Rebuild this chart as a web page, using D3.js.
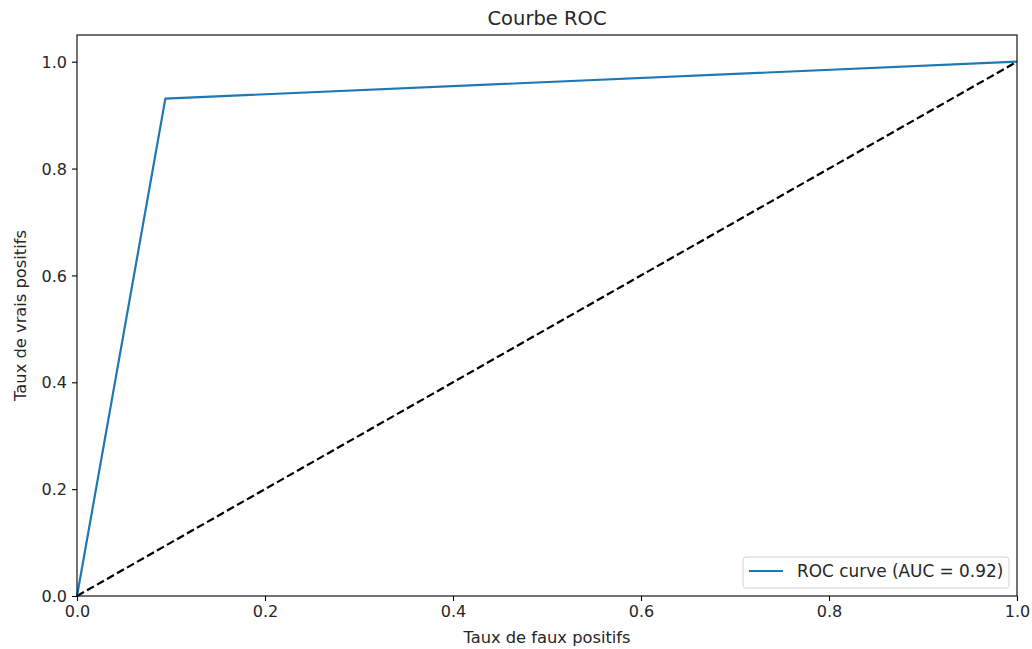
<!DOCTYPE html>
<html>
<head>
<meta charset="utf-8">
<script src="https://cdn.jsdelivr.net/npm/d3@7"></script>
<style>
  body { margin: 0; background: #fff; }
  text { font-family: "DejaVu Sans", sans-serif; fill: #262626; }
</style>
</head>
<body>
<svg id="chart"></svg>
<script>
// ROC data
const fpr = [0, 0.094, 1];
const tpr = [0, 0.931, 1];
const diagX = [0, 1];
const diagY = [0, 1];
const xTicks = [0, 0.2, 0.4, 0.6, 0.8, 1.0];
const yTicks = [0, 0.2, 0.4, 0.6, 0.8, 1.0];
const aucLabel = "ROC curve (AUC = 0.92)";

const width = 1032, height = 649;
const margin = { top: 35, right: 15, bottom: 53, left: 77 };
const svg = d3.select("#chart").attr("width", width).attr("height", height);

const x = d3.scaleLinear().domain([0, 1]).range([margin.left, width - margin.right]);
const y = d3.scaleLinear().domain([0, 1.05]).range([height - margin.bottom, margin.top]);

// lignes
const line = d3.line().x(d => x(d[0])).y(d => y(d[1]));

svg.append("path")
  .datum(diagX.map((d, i) => [d, diagY[i]]))
  .attr("d", line)
  .attr("fill", "none")
  .attr("stroke", "#000")
  .attr("stroke-width", 2.2)
  .attr("stroke-dasharray", "8,3.5");

svg.append("path")
  .datum(fpr.map((d, i) => [d, tpr[i]]))
  .attr("d", line)
  .attr("fill", "none")
  .attr("stroke", "#1f77b4")
  .attr("stroke-width", 2.2)
  .attr("stroke-linejoin", "round");

// axes
const xAxis = svg.append("g")
  .attr("transform", `translate(0,${height - margin.bottom})`)
  .call(d3.axisBottom(x).tickValues(xTicks).tickFormat(d3.format(".1f")).tickSizeOuter(0).tickSize(5).tickPadding(5));
const yAxis = svg.append("g")
  .attr("transform", `translate(${margin.left},0)`)
  .call(d3.axisLeft(y).tickValues(yTicks).tickFormat(d3.format(".1f")).tickSizeOuter(0).tickSize(5).tickPadding(5));

[xAxis, yAxis].forEach(g => {
  g.select(".domain").remove();
  g.selectAll(".tick line").attr("stroke", "#000").attr("stroke-width", 1.1);
  g.selectAll(".tick text").attr("font-size", 16).attr("fill", "#262626")
    .attr("font-family", "DejaVu Sans, sans-serif");
});
yAxis.selectAll(".tick text").attr("dy", "0.35em");

// cadre
svg.append("rect")
  .attr("x", x(0)).attr("y", y(1.05))
  .attr("width", x(1) - x(0)).attr("height", y(0) - y(1.05))
  .attr("fill", "none").attr("stroke", "#000").attr("stroke-width", 1.1);

// titres
svg.append("text")
  .attr("x", (x(0) + x(1)) / 2).attr("y", 25)
  .attr("text-anchor", "middle").attr("font-size", 19.5)
  .text("Courbe ROC");

svg.append("text")
  .attr("x", (x(0) + x(1)) / 2).attr("y", 643)
  .attr("text-anchor", "middle").attr("font-size", 16.3)
  .text("Taux de faux positifs");

svg.append("text")
  .attr("transform", `translate(26,${(y(0) + y(1.05)) / 2}) rotate(-90)`)
  .attr("text-anchor", "middle").attr("font-size", 16.3)
  .text("Taux de vrais positifs");

// légende
const leg = svg.append("g").attr("transform", "translate(743,557)");
leg.append("rect")
  .attr("width", 266).attr("height", 31).attr("rx", 3)
  .attr("fill", "#fff").attr("fill-opacity", 0.8)
  .attr("stroke", "#d4d4d4").attr("stroke-width", 1);
leg.append("line")
  .attr("x1", 6).attr("x2", 40).attr("y1", 14).attr("y2", 14)
  .attr("stroke", "#1f77b4").attr("stroke-width", 2.2);
leg.append("text")
  .attr("x", 54).attr("y", 20).attr("font-size", 16.9)
  .text(aucLabel);
</script>
</body>
</html>
